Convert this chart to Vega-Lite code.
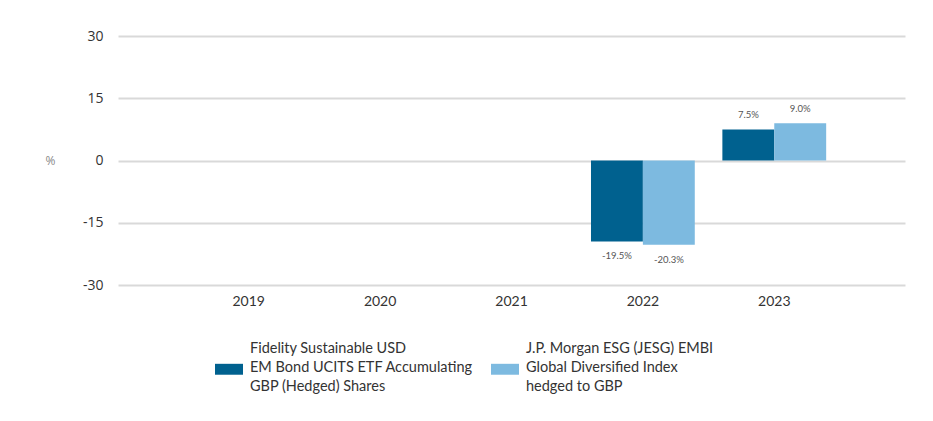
{
  "$schema": "https://vega.github.io/schema/vega-lite/v6.json",
  "width": 787,
  "height": 249,
  "autosize": {"type": "none"},
  "padding": {"left": 118, "top": 36, "right": 28, "bottom": 136},
  "background": "white",
  "config": {"view": {"stroke": null}},
  "data": {
    "values": [
      {"year": "2022", "series": "Fidelity Sustainable USD|EM Bond UCITS ETF Accumulating|GBP (Hedged) Shares", "value": -19.5},
      {"year": "2022", "series": "J.P. Morgan ESG (JESG) EMBI|Global Diversified Index|hedged to GBP", "value": -20.3},
      {"year": "2023", "series": "Fidelity Sustainable USD|EM Bond UCITS ETF Accumulating|GBP (Hedged) Shares", "value": 7.5},
      {"year": "2023", "series": "J.P. Morgan ESG (JESG) EMBI|Global Diversified Index|hedged to GBP", "value": 9.0}
    ]
  },
  "transform": [{"calculate": "(datum.value < 0 ? '-' : '') + format(abs(datum.value), '.1f') + '%'", "as": "label"}],
  "encoding": {
    "x": {
      "field": "year", "type": "nominal",
      "scale": {"domain": ["2019", "2020", "2021", "2022", "2023"], "paddingInner": 0.21, "paddingOuter": 0.6},
      "axis": {"title": null, "labelAngle": 0, "domain": false, "ticks": false, "labelPadding": 9, "labelFontSize": 14, "labelColor": "#333333", "labelFont": "Lato"}
    },
    "xOffset": {"field": "series", "type": "nominal", "scale": {"paddingInner": 0, "paddingOuter": 0}},
    "y": {
      "field": "value", "type": "quantitative",
      "scale": {"domain": [-30, 30], "nice": false},
      "axis": {
        "values": [-30, -15, 0, 15, 30],
        "labelExpr": "toString(datum.value)",
        "title": "%", "titleAngle": 0, "titleX": -68, "titleY": 124.5, "titleAlign": "center", "titleBaseline": "middle",
        "titleFontWeight": "normal", "titleFontSize": 12, "titleColor": "#8a8a8a", "titleFont": "Open Sans",
        "domain": false, "ticks": false, "labelPadding": 15, "labelFontSize": 14, "labelColor": "#333333", "labelFont": "Open Sans",
        "gridColor": "#d9d9d9", "gridWidth": 2
      }
    }
  },
  "layer": [
    {
      "mark": {"type": "bar"},
      "encoding": {
        "color": {
          "field": "series", "type": "nominal",
          "scale": {"range": ["#00618f", "#7dbae0"]},
          "legend": {
            "title": null, "orient": "none", "legendX": 97, "legendY": 299, "direction": "horizontal", "columns": 2,
            "columnPadding": 18, "padding": 0,
            "symbolType": "M-1,1.04H1V1.82H-1Z", "symbolSize": 784, "symbolStrokeWidth": 0, "symbolOpacity": 1,
            "labelExpr": "split(datum.label, '|')", "labelLimit": 400, "labelFontSize": 14.5, "labelColor": "#333333",
            "labelFont": "Lato", "labelOffset": 7, "labelBaseline": "middle",
            "encode": {"labels": {"update": {"lineHeight": {"value": 19}}}}
          }
        }
      }
    },
    {
      "transform": [{"filter": "datum.value >= 0"}],
      "mark": {"type": "text", "baseline": "bottom", "dy": -9, "fontSize": 9.5, "color": "#555555", "font": "Lato"},
      "encoding": {"text": {"field": "label"}}
    },
    {
      "transform": [{"filter": "datum.value < 0"}],
      "mark": {"type": "text", "baseline": "top", "dy": 10, "fontSize": 9.5, "color": "#555555", "font": "Lato"},
      "encoding": {"text": {"field": "label"}}
    }
  ]
}
